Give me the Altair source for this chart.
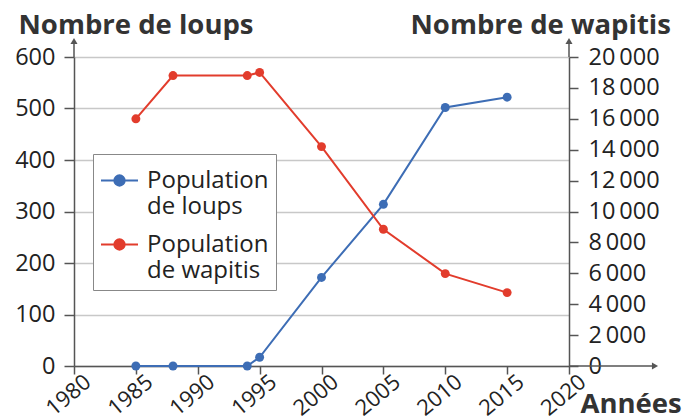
import altair as alt
import pandas as pd

years = [1985, 1988, 1994, 1995, 2000, 2005, 2010, 2015]
wolves = [0, 0, 0, 17, 172, 314, 502, 522]
elk = [16000, 18800, 18800, 19000, 14200, 8850, 5980, 4750]
series_names = ["loups", "wapitis"]
x_ticks = [1980, 1985, 1990, 1995, 2000, 2005, 2010, 2015, 2020]
left_ticks = [0, 100, 200, 300, 400, 500, 600]
right_ticks = [0, 2000, 4000, 6000, 8000, 10000, 12000, 14000, 16000, 18000, 20000]

BLUE = "#3d6db5"
RED = "#e23c2c"
AX = "#555555"
TXT = "#222222"
FONT = "Open Sans"
W, H = 495, 309
TITLE_SIZE = 27.5
LABEL_SIZE = 23.5

df_w = pd.DataFrame({"year": years, "value": wolves, "series": series_names[0]})
df_e = pd.DataFrame({"year": years, "value": elk, "series": series_names[1]})

color = alt.Color(
    "series:N",
    scale=alt.Scale(domain=series_names, range=[BLUE, RED]),
    legend=alt.Legend(
        title=None,
        orient="none",
        legendX=19,
        legendY=97,
        labelExpr="datum.label == 'loups' ? ['Population', 'de loups'] : ['Population', 'de wapitis']",
        labelFont=FONT,
        labelFontSize=24,
        labelColor=TXT,
        labelOffset=8,
        symbolType="M-1,0H-0.28A0.28,0.28 0 1,1 0.28,0A0.28,0.28 0 1,1 -0.28,0M0.28,0H1",
        symbolSize=1369,
        symbolStrokeWidth=2,
        strokeColor="#888888",
        fillColor="white",
        padding=7,
        rowPadding=6,
    ),
)

x = alt.X(
    "year:Q",
    scale=alt.Scale(domain=[1980, 2020], nice=False, zero=False),
    axis=alt.Axis(
        values=x_ticks,
        format="d",
        labelAngle=-40,
        labelAlign="right",
        labelPadding=-3,
        labelOffset=7,
        labelFont=FONT,
        labelFontSize=22,
        labelColor=TXT,
        grid=False,
        domainColor=AX,
        domainWidth=1.5,
        tickColor=AX,
        tickWidth=1.5,
        tickSize=8,
        title="Années",
        titleFont=FONT,
        titleFontSize=TITLE_SIZE,
        titleFontWeight="bold",
        titleColor="#333333",
        titleAngle=0,
        titleX=W + 11,
        titleY=46,
        titleAlign="left",
        titleBaseline="alphabetic",
        titleAnchor="start",
    ),
)

wolf_layer = alt.Chart(df_w).mark_line(
    strokeWidth=2, point=alt.OverlayMarkDef(size=80, filled=True)
).encode(
    x=x,
    y=alt.Y(
        "value:Q",
        scale=alt.Scale(domain=[0, 600], nice=False),
        axis=alt.Axis(
            values=left_ticks,
            format="d",
            orient="left",
            labelFont=FONT,
            labelFontSize=LABEL_SIZE,
            labelColor=TXT,
            grid=True,
            gridColor="#c8c8c8",
            gridWidth=1.5,
            domainColor=AX,
            domainWidth=1.5,
            tickColor=AX,
            tickWidth=1.5,
            tickSize=10,
            labelPadding=9,
            title="Nombre de loups",
            titleFont=FONT,
            titleFontSize=TITLE_SIZE,
            titleFontWeight="bold",
            titleColor="#333333",
            titleAngle=0,
            titleX=-56,
            titleY=-24,
            titleAlign="left",
            titleBaseline="alphabetic",
        ),
    ),
    color=color,
)

elk_layer = alt.Chart(df_e).mark_line(
    strokeWidth=2, point=alt.OverlayMarkDef(size=80, filled=True)
).encode(
    x=x,
    y=alt.Y(
        "value:Q",
        scale=alt.Scale(domain=[0, 20000], nice=False),
        axis=alt.Axis(
            values=right_ticks,
            orient="right",
            labelExpr="replace(format(datum.value, ','), ',', '\u2009')",
            labelFont=FONT,
            labelFontSize=LABEL_SIZE,
            labelColor=TXT,
            grid=False,
            domainColor=AX,
            domainWidth=1.5,
            tickColor=AX,
            tickWidth=1.5,
            tickSize=9,
            labelPadding=10,
            title="Nombre de wapitis",
            titleFont=FONT,
            titleFontSize=TITLE_SIZE,
            titleFontWeight="bold",
            titleColor="#333333",
            titleAngle=0,
            titleX=-159,
            titleY=-24,
            titleAlign="left",
            titleBaseline="alphabetic",
        ),
    ),
    color=color,
)

deco = alt.Chart(pd.DataFrame({"a": [0]}))
left_line = deco.mark_rule(color=AX, strokeWidth=1.5).encode(
    x=alt.value(0), y=alt.value(-14), y2=alt.value(0)
)
left_head = deco.mark_point(shape="triangle-up", filled=True, size=50, color=AX, opacity=1).encode(
    x=alt.value(0), y=alt.value(-16)
)
right_line = deco.mark_rule(color=AX, strokeWidth=1.5).encode(
    x=alt.value(W), y=alt.value(-14), y2=alt.value(0)
)
right_head = deco.mark_point(shape="triangle-up", filled=True, size=50, color=AX, opacity=1).encode(
    x=alt.value(W), y=alt.value(-16)
)
x_line = deco.mark_rule(color=AX, strokeWidth=1.5).encode(
    x=alt.value(W), x2=alt.value(W + 84), y=alt.value(H)
)
x_head = deco.mark_point(shape="triangle-right", filled=True, size=50, color=AX, opacity=1).encode(
    x=alt.value(W + 86), y=alt.value(H)
)

chart = (
    alt.layer(wolf_layer, elk_layer, left_line, left_head, right_line, right_head, x_line, x_head)
    .resolve_scale(y="independent")
    .properties(
        width=W,
        height=H,
        autosize=alt.AutoSizeParams(type="none"),
        padding={"left": 66, "top": 49, "right": 121, "bottom": 53},
    )
    .configure_view(stroke=None)
    .configure(background="white")
)

chart.save("out.html", embed_options={"renderer": "svg", "actions": False})
